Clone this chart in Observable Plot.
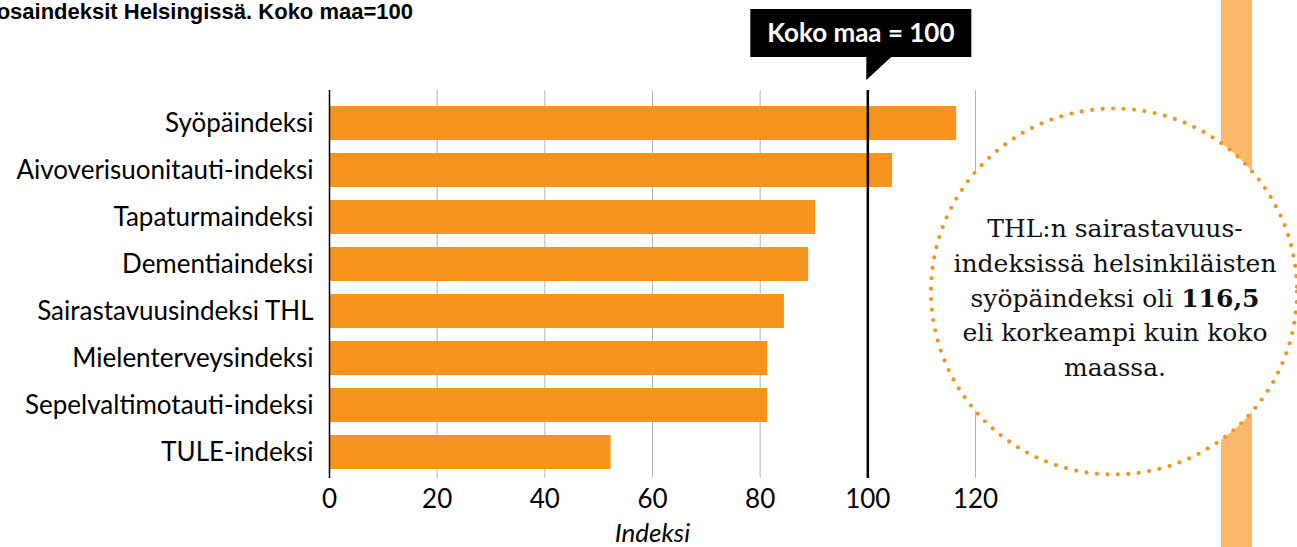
<!DOCTYPE html>
<html>
<head>
<meta charset="utf-8">
<script src="https://cdn.jsdelivr.net/npm/d3@7"></script>
<script src="https://cdn.jsdelivr.net/npm/@observablehq/plot@0.6"></script>
<style>
  html, body { margin: 0; padding: 0; background: #fff; }
  #chart { width: 1297px; height: 547px; overflow: hidden; position: relative; }
</style>
</head>
<body>
<div id="chart"></div>
<script>
const categories = [
  "Syöpäindeksi",
  "Aivoverisuonitauti-indeksi",
  "Tapaturmaindeksi",
  "Dementiaindeksi",
  "Sairastavuusindeksi THL",
  "Mielenterveysindeksi",
  "Sepelvaltimotauti-indeksi",
  "TULE-indeksi"
];
const values = [116.5, 104.6, 90.3, 89.0, 84.5, 81.4, 81.4, 52.3];
const xTicks = [0, 20, 40, 60, 80, 100, 120];
const gridTicks = [20, 40, 60, 80, 100, 120];
const referenceValue = 100;
const titleText = "osaindeksit Helsingissä. Koko maa=100";
const calloutText = "Koko maa = 100";
const axisLabel = "Indeksi";
const noteLines = [
  ["THL:n sairastavuus-"],
  ["indeksissä helsinkiläisten"],
  ["syöpäindeksi oli ", "116,5"],
  ["eli korkeampi kuin koko"],
  ["maassa."]
];

const data = categories.map((c, i) => ({category: c, value: values[i]}));
const orange = "#f7941e";

const plot = Plot.plot({
  width: 1297,
  height: 547,
  marginLeft: 329,
  marginRight: 322,
  marginTop: 90,
  marginBottom: 69,
  style: {fontFamily: "Lato, sans-serif", fontSize: "26px", color: "#000", background: "transparent"},
  x: {domain: [0, 120], ticks: xTicks, label: null},
  y: {domain: categories, label: null, paddingInner: 0.27, paddingOuter: 0.22, align: 0.66},
  marks: [
    Plot.ruleX(gridTicks, {stroke: "#b5b5b5", strokeWidth: 1}),
    Plot.barX(data, {y: "category", x: "value", fill: orange}),
    Plot.ruleX([0], {stroke: "#000", strokeWidth: 1.5}),
    Plot.ruleX([referenceValue], {stroke: "#000", strokeWidth: 2.5}),
    Plot.axisX({ticks: xTicks, tickSize: 0, tickPadding: 11, fontSize: 26, label: null}),
    Plot.axisY({tickSize: 0, tickPadding: 16, fontSize: 26, label: null}),
    Plot.text([axisLabel], {frameAnchor: "bottom", lineAnchor: "bottom", dy: 63, fontStyle: "italic", fontSize: 26, fill: "#000"})
  ]
});

document.getElementById("chart").appendChild(plot);

const svg = d3.select(plot);
const xs = plot.scale("x");
const x100 = xs.apply(referenceValue);

// Title
svg.append("text")
  .attr("x", 413).attr("y", 19)
  .attr("text-anchor", "end")
  .attr("font-family", "Liberation Sans, Arial, sans-serif")
  .attr("font-weight", "bold")
  .attr("font-size", 22)
  .attr("fill", "#000")
  .text(titleText);

// Callout box
const cg = svg.append("g");
cg.append("rect")
  .attr("x", x100 - 117).attr("y", 9)
  .attr("width", 221).attr("height", 48)
  .attr("fill", "#000");
cg.append("path")
  .attr("d", `M${x100 - 1},56 L${x100 + 25},56 L${x100 - 1},80 Z`)
  .attr("fill", "#000");
cg.append("text")
  .attr("x", x100 - 6.5).attr("y", 42)
  .attr("text-anchor", "middle")
  .attr("font-family", "Lato, sans-serif")
  .attr("font-weight", "bold")
  .attr("font-size", 26)
  .attr("fill", "#fff")
  .text(calloutText);

// Side band
svg.append("rect")
  .attr("x", 1221).attr("y", 0)
  .attr("width", 31).attr("height", 547)
  .attr("fill", "#fdb86c");

// Dotted circle
svg.append("circle")
  .attr("cx", 1114).attr("cy", 291.5).attr("r", 183)
  .attr("fill", "#fff")
  .attr("stroke", orange)
  .attr("stroke-width", 4.2)
  .attr("stroke-linecap", "round")
  .attr("stroke-dasharray", "0 10.5");

const note = svg.append("text")
  .attr("text-anchor", "middle")
  .attr("font-family", "DejaVu Serif, serif")
  .attr("font-size", 25)
  .attr("fill", "#111");
noteLines.forEach((parts, i) => {
  const line = note.append("tspan").attr("x", 1115).attr("y", 237 + i * 34.8);
  parts.forEach((p, j) => {
    if (j === 0) line.text(p);
    else note.append("tspan").attr("font-weight", "bold").text(p);
  });
});
</script>
</body>
</html>
